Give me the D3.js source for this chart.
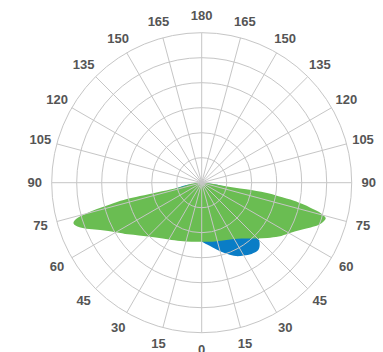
<!DOCTYPE html>
<html>
<head>
<meta charset="utf-8">
<script src="https://cdn.jsdelivr.net/npm/d3@7"></script>
<style>
  html, body { margin: 0; padding: 0; background: #ffffff; }
  svg { display: block; }
</style>
</head>
<body>
<div id="chart"></div>
<script>
// ---- data (angles in degrees from nadir, values in cd) ----
const angleTicks = [0, 15, 30, 45, 60, 75, 90, 105, 120, 135, 150, 165, 180];
const ringValues = [100, 200, 300, 400, 500, 600];

const greenRightAngles = [0, 10, 20, 30, 40, 45, 50, 55, 60, 65, 70, 72.5, 74, 75, 76, 77, 78, 79, 80, 81, 81.5, 82, 86, 90];
const greenRightValues = [236, 240, 246, 260, 292, 316, 344, 376, 404, 444, 496, 512, 516, 504, 484, 448, 412, 376, 312, 260, 180, 80, 24, 12];

const greenLeftAngles = [0, 10, 20, 30, 35, 40, 45, 50, 55, 60, 65, 70, 72.5, 74, 75, 76, 77, 77.5, 78, 82, 86, 90];
const greenLeftValues = [236, 240, 248, 262, 272, 286, 304, 328, 360, 396, 448, 520, 538, 520, 480, 420, 360, 320, 80, 48, 24, 14];

const blueRightAngles = [0, 5, 10, 15, 20, 25, 30, 35, 40, 43, 46, 50, 60, 70, 80, 90];
const blueRightValues = [234, 248, 264, 284, 304, 324, 336, 348, 352, 340, 316, 280, 232, 192, 100, 0];

const blueLeftAngles = [0, 10, 20, 30, 40, 50, 60, 70, 80, 90];
const blueLeftValues = [232, 228, 228, 232, 224, 208, 192, 168, 80, 0];

// ---- layout ----
const W = 383, H = 352;
const cx = 201.7, cy = 182.7, R = 150, labelR = 167;

const svg = d3.select("#chart").append("svg")
  .attr("width", W).attr("height", H);

const g = svg.append("g").attr("transform", `translate(${cx},${cy})`);

const r = d3.scaleLinear().domain([0, 600]).range([0, R]);
const rad = d => d * Math.PI / 180;

function halfPoints(angles, values, side) {
  return angles.map((a, i) => ({
    a: side === "right" ? Math.PI - rad(a) : Math.PI + rad(a),
    v: values[i]
  }));
}

function shape(rightA, rightV, leftA, leftV) {
  const right = halfPoints(rightA, rightV, "right");
  const left = halfPoints(leftA, leftV, "left").reverse();
  return right.concat(left);
}

const line = d3.lineRadial()
  .angle(d => d.a)
  .radius(d => r(d.v))
  .curve(d3.curveCatmullRomClosed.alpha(0.5));

// blue series (below)
g.append("path")
  .attr("d", line(shape(blueRightAngles, blueRightValues, blueLeftAngles, blueLeftValues)))
  .attr("fill", "#0a7dc6");

// green series
g.append("path")
  .attr("d", line(shape(greenRightAngles, greenRightValues, greenLeftAngles, greenLeftValues)))
  .attr("fill", "#6abd52");

// ---- grid ----
const grid = g.append("g").attr("fill", "none").attr("stroke", "#c6c6c6").attr("stroke-width", 1);
ringValues.forEach(v => {
  grid.append("circle").attr("r", r(v));
});

const spokeAngles = d3.range(0, 360, 15);
spokeAngles.forEach(a => {
  const t = rad(a);
  grid.append("line")
    .attr("x1", 0).attr("y1", 0)
    .attr("x2", R * Math.sin(t)).attr("y2", -R * Math.cos(t));
});

// ---- labels ----
const labels = g.append("g")
  .attr("font-family", "'Liberation Sans', Arial, sans-serif")
  .attr("font-size", 13)
  .attr("font-weight", "bold")
  .attr("fill", "#555555")
  .attr("text-anchor", "middle")
  .attr("dominant-baseline", "central");

angleTicks.forEach(t => {
  const sides = (t === 0 || t === 180) ? ["right"] : ["right", "left"];
  sides.forEach(s => {
    const a = s === "right" ? Math.PI - rad(t) : Math.PI + rad(t);
    labels.append("text")
      .attr("x", labelR * Math.sin(a))
      .attr("y", -labelR * Math.cos(a))
      .text(t);
  });
});
</script>
</body>
</html>
